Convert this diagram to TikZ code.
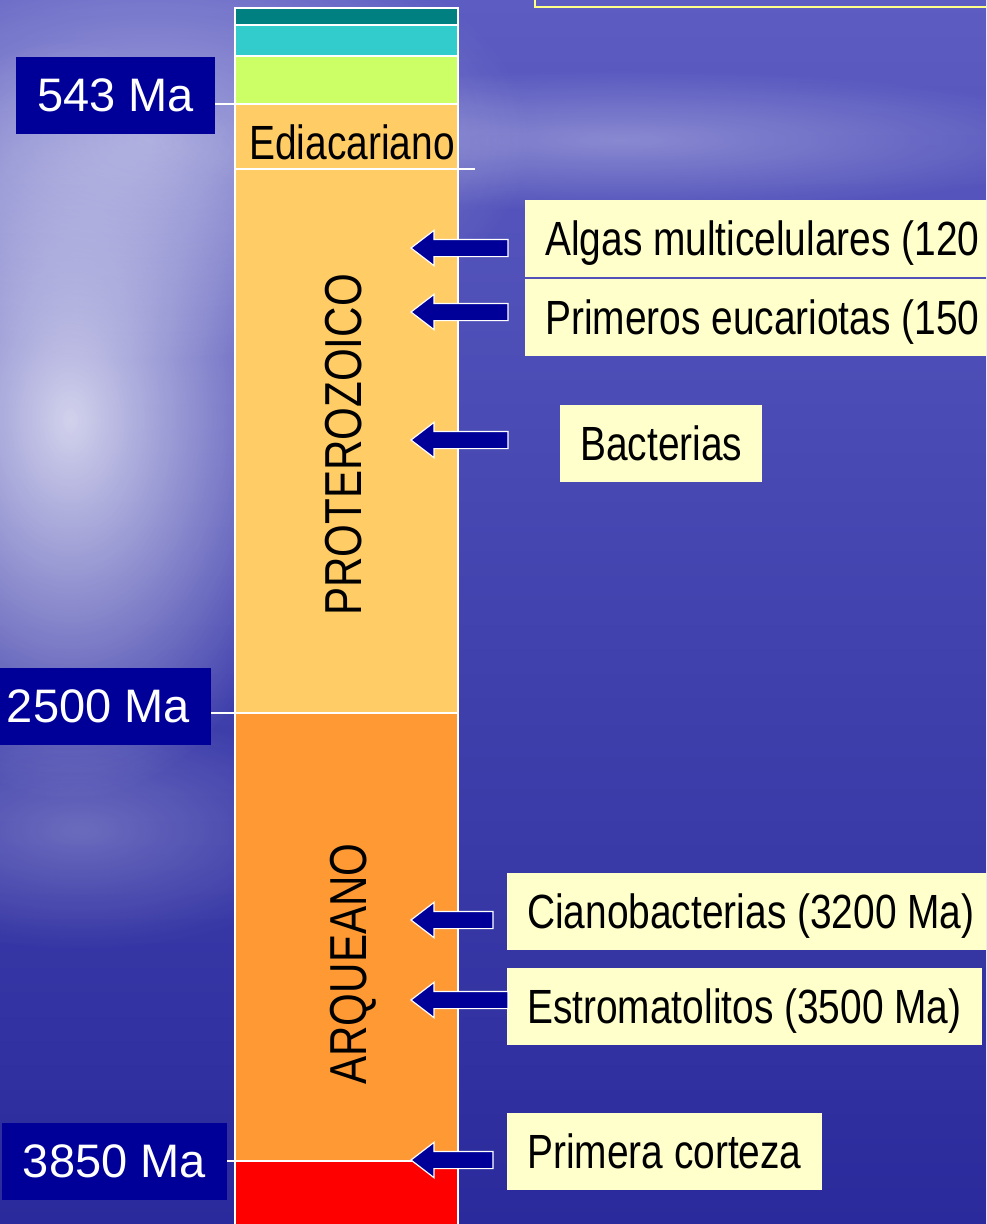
\documentclass[tikz,border=0pt]{standalone}
\usepackage{fontspec}
\setmainfont{Liberation Sans}
\newfontfamily\narrowfont{Liberation Sans}[FakeStretch=0.81]
\usetikzlibrary{shapes.arrows,fadings}
\definecolor{bgtop}{HTML}{5C5CC2}
\definecolor{bgbot}{HTML}{2A2A9C}
\definecolor{mablue}{HTML}{000099}
\definecolor{factbg}{HTML}{FFFFCC}
\definecolor{cTeal}{HTML}{008080}
\definecolor{cCyan}{HTML}{33CCCC}
\definecolor{cLime}{HTML}{CCFF66}
\definecolor{cProt}{HTML}{FFCC66}
\definecolor{cArq}{HTML}{FF9933}
\definecolor{cHad}{HTML}{FF0000}
\definecolor{frameyel}{HTML}{FFFF88}
\newcommand{\widelabel}[1]{\makebox[440pt][l]{#1}}
\tikzfading[name=glowfade, inner color=transparent!0, outer color=transparent!100]
\begin{document}
\begin{tikzpicture}[x=1pt,y=-1pt,
  seg/.style={draw=white,line width=2pt},
  tick/.style={draw=white,line width=2pt},
  ma/.style={fill=mablue,text=white,font=\fontsize{47}{56}\selectfont,inner xsep=21pt,text height=35pt,text depth=2pt,minimum height=77pt,anchor=east},
  fact/.style={fill=factbg,text=black,font=\narrowfont\fontsize{48}{56}\selectfont,inner xsep=20pt,text height=36pt,text depth=2pt,minimum height=77pt,anchor=west},
  blk/.style={single arrow,fill=mablue,draw=white,line width=1.2pt,shape border rotate=180,single arrow head extend=9pt,single arrow tip angle=75,inner ysep=8pt,inner xsep=0pt,minimum width=34pt,anchor=tip},
  era/.style={font=\narrowfont\fontsize{52}{60}\selectfont,rotate=90}]
  \useasboundingbox (0,0) rectangle (986,1224);
  \clip (0,0) rectangle (986,1224);
  % background
  \fill[top color=bgtop,bottom color=bgbot] (0,0) rectangle (986,1224);
  \fill[white,path fading=glowfade,fill opacity=0.45] (150,140) ellipse (380 and 220);
  \fill[white,path fading=glowfade,fill opacity=0.75] (70,420) ellipse (250 and 380);
  \fill[white,path fading=glowfade,fill opacity=0.25] (80,830) ellipse (260 and 120);
  \fill[white,path fading=glowfade,fill opacity=0.3] (620,140) ellipse (480 and 70);
  \draw[frameyel,line width=2.5pt] (535,-20) rectangle (1000,7);
  % column
  \filldraw[seg,fill=cTeal] (235,8) rectangle (458,25);
  \filldraw[seg,fill=cCyan] (235,25) rectangle (458,56);
  \filldraw[seg,fill=cLime] (235,56) rectangle (458,104);
  \filldraw[seg,fill=cProt] (235,104) rectangle (458,169);
  \filldraw[seg,fill=cProt] (235,169) rectangle (458,713);
  \filldraw[seg,fill=cArq] (235,713) rectangle (458,1161);
  \filldraw[seg,fill=cHad] (235,1161) rectangle (458,1240);
  \coordinate (b543) at (235,104);
  \coordinate (bEdi) at (458,169);
  \coordinate (bEdiEnd) at (475,169);
  \coordinate (b2500) at (235,713);
  \coordinate (b3850) at (235,1161);
  \node[font=\narrowfont\fontsize{48}{56}\selectfont] (edi) at (352,142) {Ediacariano};
  \node[era] (prot) at (344,445) {PROTEROZOICO};
  \node[era] (arq) at (353,964) {ARQUEANO};
  % ages
  \node[ma] (m543) at (215,95) {543 Ma};
  \node[ma] (m2500) at (211,706) {2500 Ma};
  \node[ma] (m3850) at (227,1161) {3850 Ma};
  \draw[tick] (m543.east |- b543) -- (b543);
  \draw[tick] (bEdi) -- (bEdiEnd);
  \draw[tick] (m2500.east |- b2500) -- (b2500);
  \draw[tick] (m3850.east) -- (b3850);
  % events
  \node[fact] (algas) at (525,238.5) {\widelabel{Algas multicelulares (120}};
  \node[fact] (eucar) at (525,317.5) {\widelabel{Primeros eucariotas (150}};
  \node[fact] (bact) at (560,443) {Bacterias};
  \node[fact] (ciano) at (507,911) {Cianobacterias (3200 Ma)};
  \node[fact] (estro) at (507,1006.5) {Estromatolitos (3500 Ma)};
  \node[fact] (corteza) at (507,1151) {Primera corteza};
  \node[blk,minimum height=97pt] (aAlgas) at (410,248) {};
  \node[blk,minimum height=97pt] (aEucar) at (410,312) {};
  \node[blk,minimum height=97pt] (aBact) at (410,440) {};
  \node[blk,minimum height=82pt] (aCiano) at (410,920) {};
  \node[blk,minimum height=97pt] (aEstro) at (410,1000) {};
  \node[blk,minimum height=82pt] (aCorteza) at (410,1160) {};
\end{tikzpicture}
\end{document}
